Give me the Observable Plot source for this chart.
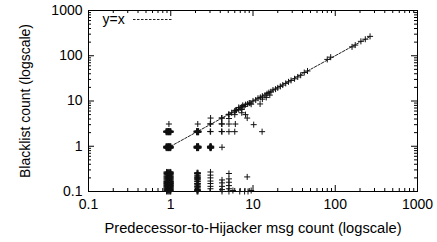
<!DOCTYPE html>
<html>
<head>
<meta charset="utf-8">
<script src="https://cdn.jsdelivr.net/npm/d3@7"></script>
<script src="https://cdn.jsdelivr.net/npm/@observablehq/plot@0.6"></script>
<style>
  html, body { margin: 0; padding: 0; background: white; }
</style>
</head>
<body>
<div id="chart"></div>
<script>
// ---- data ----
const xLabel = "Predecessor-to-Hijacker msg count (logscale)";
const yLabel = "Blacklist count (logscale)";
const legendLabels = ["y=x"];
const xTickValues = [0.1, 1, 10, 100, 1000];
const xTickLabels = ["0.1", "1", "10", "100", "1000"];
const yTickValues = [0.1, 1, 10, 100, 1000];
const yTickLabels = ["0.1", "1", "10", "100", "1000"];
const diagonalRange = [1, 260];

// dense overplotted clusters: x positions and y positions of each cluster
const blobCol1X = [0.88, 0.9, 0.92, 0.94, 0.96, 0.98, 1.0];
const blobCol2X = [2.06, 2.1, 2.14, 2.18];
const blobCol3X = [3.0, 3.05, 3.1];
const blobRow1Y = [0.91, 0.94, 0.97, 1.0];
const blobRow2Y = [2.04, 2.1, 2.16];

// near-zero blacklist counts (drawn jittered between 0.1 and 0.27)
const lowCol1Y = [0.1,0.105,0.11,0.115,0.12,0.125,0.13,0.135,0.14,0.145,0.15,0.155,0.16,0.165,0.17,0.18,0.19,0.2,0.21,0.22,0.235,0.25,0.26,0.27];
const lowCol1X = [0.89, 0.92, 0.95, 0.98, 1.0];
const lowCol2Y = [0.1,0.105,0.11,0.12,0.13,0.14,0.15,0.165,0.18,0.19,0.2,0.21,0.23,0.25,0.26];
const lowCol2X = [2.09, 2.14];
const lowX = [
  3.04,3.04,3.04,3.04,3.04,3.04,3.04,
  4.2,4.2,4.2,4.2,4.2,
  5.1,5.1,5.1,5.1,5.1,5.1,
  5.7,6.9,7.9,8.7,9.5,8.5
];
const lowY = [
  0.115,0.13,0.15,0.17,0.2,0.23,0.27,
  0.1,0.11,0.13,0.155,0.18,
  0.1,0.115,0.135,0.16,0.19,0.25,
  0.105,0.1,0.1,0.1,0.105,0.21
];

// small counts grid
const gridX = [
  0.95,
  2.13,
  3.05,3.02, 3.05,3.02, 3.05,
  4.2, 4.2,4.15, 4.2,4.15, 4.2,4.15,
  5.1,5.1,5.1,5.1,5.05,
  6.0,6.1,6.0,6.0,6.1,
  6.7,6.7, 7.3,7.3,7.3,7.5, 8.1,8.1,8.5,
  10.2,9.0,9.5,12.9,12.2
];
const gridY = [
  3.1,
  3.1,
  2.1,2.12, 3.1,3.12, 4.2,
  0.95, 2.1,2.12, 3.1,3.12, 4.2,4.2,
  2.1,3.1,4.1,5.1,5.0,
  2.1,3.1,5.0,6.0,6.2,
  6.5,7.2, 5.5,6.5,7.4,8.0, 8.3,5.0,4.2,
  3.0,9.0,8.5,2.1,8.6
];

// counts along the diagonal
const diagX = [5.5,6.3,7.0,7.8,8.6,9.2,10,10.8,11.5,12.3,13,14,14.8,15.6,16.5,17.5,18.8,20,21.5,23,25,27,29,32,35,38,42,46,
  13,14.5,16,80,88,160,175,205,232,265];
const diagY = [5.5,6.3,7.0,7.6,8.6,9.0,10,10.5,11.5,12,12.8,13.5,14.5,15.3,16,17.5,18.3,19.5,21,22.5,24.5,26.5,28.5,31,34,37,42.5,46,
  11,12,13.5,83,93,157,172,208,232,268];

// ---- build ----
const cross = (xs, ys) => xs.flatMap(x => ys.map(y => ({x, y})));
const points = [
  ...cross(blobCol1X, blobRow1Y),
  ...cross(blobCol1X, blobRow2Y),
  ...cross(blobCol2X, blobRow1Y),
  ...cross(blobCol2X, blobRow2Y),
  ...cross(blobCol3X, blobRow1Y),
  ...cross(lowCol1X, lowCol1Y),
  ...cross(lowCol2X, lowCol2Y),
  ...lowX.map((x, i) => ({x, y: lowY[i]})),
  ...gridX.map((x, i) => ({x, y: gridY[i]})),
  ...diagX.map((x, i) => ({x, y: diagY[i]}))
];
const lineData = diagonalRange.map(v => ({x: v, y: v}));

const W = 437, H = 242;
const mL = 88, mR = 20, mT = 10, mB = 51;
const plotW = W - mL - mR, plotH = H - mT - mB;

const minorX = d3.scaleLog().domain([0.1, 1000]).ticks().filter(v => !xTickValues.some(t => Math.abs(t - v) < 1e-9));
const minorY = d3.scaleLog().domain([0.1, 1000]).ticks().filter(v => !yTickValues.some(t => Math.abs(t - v) < 1e-9));

const xFmt = d => xTickLabels[xTickValues.findIndex(t => Math.abs(t - d) < 1e-9)];
const yFmt = d => yTickLabels[yTickValues.findIndex(t => Math.abs(t - d) < 1e-9)];

const font = "'Liberation Sans', Arial, Helvetica, sans-serif";

const chart = Plot.plot({
  width: W,
  height: H,
  marginLeft: mL,
  marginRight: mR,
  marginTop: mT,
  marginBottom: mB,
  style: {fontFamily: font, fontSize: "14px", background: "white", color: "black"},
  x: {type: "log", domain: [0.1, 1000]},
  y: {type: "log", domain: [0.1, 1000]},
  marks: [
    // tick labels
    Plot.axisX(xTickValues, {tickFormat: xFmt, tickSize: 0, tickPadding: 8, label: null, fontSize: 14, fill: "black"}),
    Plot.axisY(yTickValues, {tickFormat: yFmt, tickSize: 0, tickPadding: 6, label: null, fontSize: 14, fill: "black"}),
    // inward ticks, all four sides
    Plot.tickX(xTickValues, {x: d => d, insetTop: plotH - 6, stroke: "black"}),
    Plot.tickX(xTickValues, {x: d => d, insetBottom: plotH - 6, stroke: "black"}),
    Plot.tickX(minorX, {x: d => d, insetTop: plotH - 3, stroke: "black"}),
    Plot.tickX(minorX, {x: d => d, insetBottom: plotH - 3, stroke: "black"}),
    Plot.tickY(yTickValues, {y: d => d, insetRight: plotW - 6, stroke: "black"}),
    Plot.tickY(yTickValues, {y: d => d, insetLeft: plotW - 6, stroke: "black"}),
    Plot.tickY(minorY, {y: d => d, insetRight: plotW - 3, stroke: "black"}),
    Plot.tickY(minorY, {y: d => d, insetLeft: plotW - 3, stroke: "black"}),
    Plot.frame({stroke: "black", strokeWidth: 1}),
    // y = x reference line
    Plot.line(lineData, {x: "x", y: "y", stroke: "#222", strokeWidth: 1, strokeDasharray: "2.5,1.5"}),
    // points
    Plot.dot(points, {x: "x", y: "y", symbol: "plus", r: 2.1, stroke: "#111", strokeWidth: 1}),
    // legend
    Plot.text(legendLabels, {text: d => d, frameAnchor: "top-left", dx: 14, dy: 9, textAnchor: "start", lineAnchor: "middle", fontSize: 14, fill: "black"}),
    Plot.ruleY([1000], {dy: 9, insetLeft: 45, insetRight: plotW - 84, stroke: "#222", strokeWidth: 1, strokeDasharray: "2.5,1.5"}),
    // axis titles
    Plot.text([xLabel], {text: d => d, frameAnchor: "bottom", dy: 37, textAnchor: "middle", lineAnchor: "middle", fontSize: 14.7, fill: "black"}),
    Plot.text([yLabel], {text: d => d, frameAnchor: "left", dx: -63, rotate: -90, textAnchor: "middle", lineAnchor: "middle", fontSize: 14, fill: "black"})
  ]
});

document.getElementById("chart").appendChild(chart);
</script>
</body>
</html>
